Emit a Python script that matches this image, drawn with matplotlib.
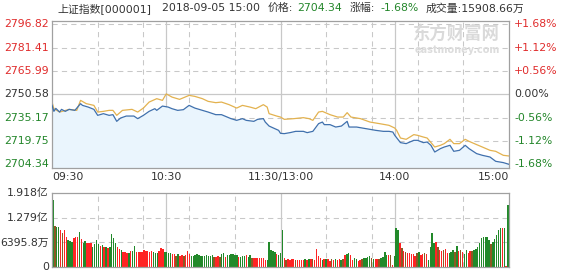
import numpy as np
import matplotlib
matplotlib.use("Agg")
import matplotlib.pyplot as plt

plt.rcParams['font.family'] = ['DejaVu Sans', 'Noto Sans CJK SC']
plt.rcParams['font.size'] = 7.8

# 坐标轴刻度
prev_close = 2750.58
price_ticks = [2796.82, 2781.41, 2765.99, 2750.58, 2735.17, 2719.75, 2704.34]
pct_labels = ['+1.68%', '+1.12%', '+0.56%', '0.00%', '-0.56%', '-1.12%', '-1.68%']
vol_ticks = [0, 6395.8, 12791.6, 19187.4]
vol_labels = ['0', '6395.8万', '1.279亿', '1.918亿']
time_pos = [0, 60, 120, 180, 240]
time_labels = ['09:30', '10:30', '11:30/13:00', '14:00', '15:00']

# 分时价格 (分钟, 点位)
blue_min = [0, 1, 2, 4, 5, 7, 9, 12, 15, 16, 19, 22, 24, 27, 30, 32, 34, 36, 39, 43,
            45, 48, 51, 54, 55, 58, 61, 63, 66, 69, 72, 75, 79, 82, 86, 89, 92, 94, 97, 100,
            102, 106, 108, 111, 112, 114, 117, 119, 120, 122, 125, 128, 132, 134, 137, 140, 142, 143, 146, 149,
            152, 155, 156, 160, 163, 167, 170, 174, 177, 179, 180, 183, 186, 190, 192, 195, 197, 199, 201, 204,
            206, 209, 211, 214, 217, 219, 223, 226, 230, 233, 237, 240]
blue_px = [2743.31, 2739.35, 2741.33, 2738.89, 2740.67, 2739.35, 2740.67, 2740.01, 2744.44, 2743.31,
           2742.19, 2740.67, 2736.71, 2737.83, 2736.71, 2737.17, 2732.75, 2734.93, 2736.25, 2736.25,
           2734.53, 2736.71, 2739.35, 2741.13, 2740.01, 2742.85, 2742.19, 2741.13, 2740.01, 2740.47,
           2743.31, 2741.53, 2740.01, 2738.89, 2737.17, 2737.17, 2735.59, 2734.53, 2733.41, 2734.53,
           2733.41, 2732.75, 2734.07, 2734.53, 2732.28, 2729.64, 2727.92, 2726.80, 2724.82, 2724.62,
           2725.28, 2726.14, 2726.14, 2725.28, 2726.14, 2731.23, 2732.28, 2730.57, 2730.57, 2728.98,
           2729.64, 2732.75, 2728.98, 2728.98, 2728.32, 2727.46, 2726.80, 2726.14, 2726.14, 2725.68,
           2723.50, 2718.68, 2718.02, 2720.20, 2720.20, 2718.68, 2719.07, 2716.90, 2712.47, 2714.72,
           2715.77, 2716.90, 2712.93, 2713.59, 2716.90, 2714.72, 2711.41, 2710.29, 2709.17, 2706.33,
           2705.47, 2704.34]

# 均价线 / 不加权指数
avg_min = [0, 1, 4, 9, 13, 15, 18, 22, 24, 27, 30, 32, 34, 37, 42, 45, 48, 51, 55, 58,
           60, 63, 67, 72, 75, 79, 82, 86, 89, 93, 97, 100, 104, 107, 111, 113, 114, 118, 120, 122,
           127, 132, 135, 137, 140, 142, 146, 150, 153, 155, 157, 162, 167, 172, 177, 180, 181, 183, 186, 190,
           192, 195, 197, 201, 204, 206, 209, 211, 214, 217, 219, 223, 226, 230, 233, 237, 240]
avg_px = [2745.49, 2741.13, 2738.89, 2740.67, 2740.01, 2746.62, 2744.44, 2743.31, 2738.89, 2739.35,
          2740.01, 2740.01, 2736.71, 2740.01, 2740.67, 2738.89, 2741.53, 2745.49, 2747.74, 2746.62,
          2750.90, 2748.80, 2747.28, 2749.92, 2749.26, 2747.74, 2745.96, 2745.10, 2745.49, 2743.78,
          2741.53, 2743.31, 2742.19, 2741.13, 2743.78, 2742.19, 2737.83, 2736.25, 2735.59, 2734.07,
          2734.53, 2735.19, 2734.53, 2733.41, 2738.89, 2739.35, 2737.17, 2735.59, 2735.59, 2738.49,
          2735.59, 2734.53, 2732.28, 2731.23, 2730.11, 2728.32, 2726.80, 2721.72, 2720.86, 2723.96,
          2723.50, 2722.38, 2721.72, 2715.77, 2716.90, 2718.02, 2720.86, 2718.02, 2718.02, 2720.86,
          2719.54, 2717.36, 2715.77, 2713.59, 2712.93, 2710.29, 2709.83]

# 成交量 (万), 上午 121 根 + 下午 120 根
vol_am = [17400, 10660, 10400, 10240, 9550, 8870, 9720, 7850, 6990, 6820,
          6570, 7590, 7680, 7680, 9040, 7170, 6140, 6650, 6140, 6300,
          6140, 5290, 5970, 6990, 5970, 5460, 5720, 5120, 5290, 4860,
          5120, 8440, 7590, 6310, 5290, 4610, 4440, 4010, 4010, 3800,
          3580, 4270, 4270, 5460, 4010, 4010, 4010, 4010, 4440, 4300,
          4270, 4010, 4180, 4010, 3750, 3750, 4270, 4860, 4780, 4010,
          3900, 3750, 3750, 3410, 3410, 2900, 3410, 2900, 3160, 2900,
          3160, 4270, 3410, 2900, 2900, 3070, 3410, 3070, 2900, 2900,
          2950, 3070, 2900, 2900, 3070, 2560, 2560, 2900, 2730, 3410,
          3580, 2730, 3070, 3200, 3410, 3410, 3070, 3070, 2730, 2560,
          2900, 2800, 3070, 2730, 3160, 2300, 2300, 2300, 2300, 2300,
          2300, 2300, 1880, 1880, 6400, 4440, 4270, 4010, 3410, 3160,
          3580]
# r 涨, g 跌, b 红绿重叠处的褐色
col_am = ''.join(['gbggrbrrgg', 'grrrgrggrr', 'rggggrgrgr', 'ggggrrgrrr', 'grggrrrrrr',
                  'rrrgggrrrg', 'gggrrbgrrb', 'rrrggggggg', 'gggggbrrbg', 'grggggggrg',
                  'ggrggbrrrr', 'rrrgggggrg', 'g'])
vol_pm = [9720, 2300, 1880, 2050, 1880, 2220, 2050, 1880, 1790, 1790,
          1790, 1880, 2220, 1880, 2220, 2050, 2220, 1880, 4610, 2900,
          2470, 1880, 2050, 2220, 2050, 1540, 2050, 1880, 2220, 1880,
          2050, 1880, 2050, 3160, 3330, 3750, 3160, 1880, 2300, 2130,
          1710, 1880, 2050, 2300, 2390, 2730, 2900, 2390, 2220, 2220,
          2050, 2220, 2390, 2560, 4010, 3160, 3240, 3240, 600, 2900,
          9980, 9550, 6310, 4860, 4180, 3840, 3580, 3580, 3410, 3410,
          2900, 3580, 3920, 3160, 3410, 3580, 3410, 1880, 5290, 8700,
          6140, 6570, 5120, 4440, 4180, 4440, 4610, 3750, 3580, 4000,
          4440, 4010, 5460, 4270, 4440, 4010, 3410, 4440, 3750, 4270,
          4270, 4440, 4610, 5290, 6310, 7420, 7850, 7850, 7680, 6990,
          5890, 6570, 7170, 8270, 9550, 9980, 9980, 9980, 340, 15950]
col_pm = ''.join(['grbrrrrbrr', 'rrgrgrbrrr', 'rgrgrrbrgr', 'rgbrggrrgg', 'rrbggggbgr',
                  'rbggggrbrg', 'ggrbrbrrrr', 'rbgrrbrggg', 'grbrrbrrgg', 'gbgrbrggrr',
                  'bggggggggg', 'bgggggrgrg'])

RED = '#e02b2b'
GREEN = '#23862a'
DARK = '#333333'
GRID = '#c8c8c8'
FRAME = '#a0a0a0'
bar_colors = {'r': '#ff2424', 'g': '#22892a', 'b': '#8c5a24'}

W, H = 562, 273
fig = plt.figure(figsize=(W / 100, H / 100), dpi=100)
fig.patch.set_facecolor('white')

left, right = 52, 509
ax = fig.add_axes([left / W, 1 - 168.3 / H, (right - left) / W, 147.6 / H])
axv = fig.add_axes([left / W, 1 - 267.3 / H, (right - left) / W, 74.6 / H])

ylo, yhi = 2701.7, 2799.3
for a in (ax, axv):
    a.set_xlim(0, 240)
    a.set_xticks([])
    a.set_yticks([])
    for s in a.spines.values():
        s.set_color(FRAME)
        s.set_linewidth(0.9)
    # 竖向网格
    for m in range(24, 240, 24):
        if m % 60 != 0:
            a.axvline(m, color=GRID, lw=0.75, ls=(0, (5, 4)), zorder=0)
    for m in (60, 120, 180):
        a.axvline(m, color=GRID, lw=0.9, zorder=0)

ax.set_ylim(ylo, yhi)
for p in price_ticks:
    if p == prev_close:
        ax.axhline(p, color=GRID, lw=0.9, zorder=0)
    else:
        ax.axhline(p, color=GRID, lw=0.75, ls=(0, (5, 4)), zorder=0)

ax.fill_between(blue_min, blue_px, ylo, color='#eaf5fd', lw=0, zorder=1)
ax.plot(avg_min, avg_px, color='#e3b24f', lw=0.9, zorder=2)
ax.plot(blue_min, blue_px, color='#3f70ad', lw=0.9, zorder=3)

ytr = ax.get_yaxis_transform()
for p, lab in zip(price_ticks, pct_labels):
    c = RED if p > prev_close else (GREEN if p < prev_close else DARK)
    ax.text(-3 / 457, p, f'{p:.2f}', color=c, ha='right', va='center', transform=ytr)
    ax.text(1 + 5 / 457, p, lab, color=c, ha='left', va='center', transform=ytr)

xtr = ax.get_xaxis_transform()
for m, lab in zip(time_pos, time_labels):
    ha = 'left' if m == 0 else ('right' if m == 240 else 'center')
    ax.text(m, -0.059, lab, color=DARK, ha=ha, va='center', transform=xtr)

# 成交量
vol = vol_am + vol_pm
cols = [bar_colors[c] for c in (col_am + col_pm)]
bx = 0.5 + np.arange(len(vol)) * 239 / 240
axv.set_ylim(0, vol_ticks[-1])
for v in vol_ticks[1:3]:
    axv.axhline(v, color=GRID, lw=0.75, ls=(0, (5, 4)), zorder=0)
axv.bar(bx, vol, width=0.75, color=cols, lw=0, zorder=2)
vtr = axv.get_yaxis_transform()
for v, lab in zip(vol_ticks, vol_labels):
    axv.text(-3 / 457, v, lab, color=DARK, ha='right', va='center', transform=vtr)

# 标题
ty = 1 - 8.3 / H
parts = [(57, '上证指数[000001]', DARK), (162, '2018-09-05 15:00', DARK),
         (268, '价格:', DARK), (297, '2704.34', GREEN), (350, '涨幅:', DARK),
         (380, '-1.68%', GREEN), (426, '成交量:15908.66万', DARK)]
for x, s, c in parts:
    fig.text(x / W, ty, s, color=c, ha='left', va='center')

# 水印
fig.text(456 / W, 1 - 34 / H, '东方财富网', color='#dadada', ha='center', va='center',
         fontsize=12.5, fontweight='bold')
fig.text(457 / W, 1 - 50 / H, 'eastmoney.com', color='#dcdcdc', ha='center', va='center',
         fontsize=7, fontweight='bold')

fig.savefig('out.png', dpi=100)
